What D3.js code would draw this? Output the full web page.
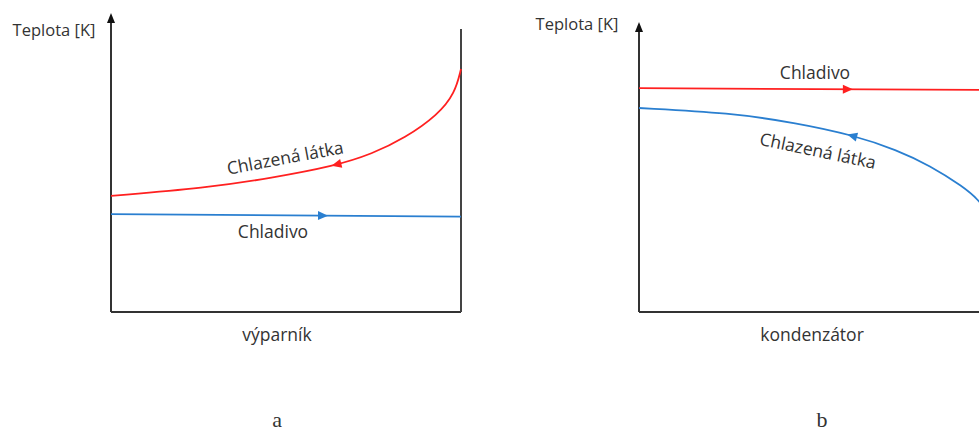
<!DOCTYPE html>
<html><head><meta charset="utf-8">
<script src="https://cdn.jsdelivr.net/npm/d3@7"></script>
<style>body{margin:0;background:#fff}svg{display:block}</style>
</head><body>
<svg id="c" width="979" height="432"></svg>
<script>
// Panel a (výparník)
const aHotX = [0, 27, 46, 64, 74.6, 84, 93.4, 98.3, 100];
const aHotY = [38.7, 41.3, 44.7, 48.7, 52.7, 58, 65.7, 73, 81];
const aColdX = [0, 100];
const aColdY = [32.6, 31.8];
// Panel b (kondenzátor)
const bHotX = [0, 100];
const bHotY = [74.6, 74];
const bColdX = [0, 26, 45.1, 61.1, 73.7, 83.1, 92.6, 97.1, 100];
const bColdY = [68, 66.4, 63, 59, 54, 48.8, 41.8, 37.3, 32.5];
const yLabel = "Teplota [K]";
const panelNames = ["výparník", "kondenzátor"];
const panelLetters = ["a", "b"];
const seriesNames = ["Chlazená látka", "Chladivo"];

const RED = "#ff2020", BLUE = "#2a7fd0", AX = "#333";
const svg = d3.select("#c");
const font = "'Open Sans', 'Noto Sans', sans-serif";

function zip(xs, ys){ return xs.map((x,i)=>({x, y: ys[i]})); }

function arrowAt(g, path, xs, targetX, dir, color){
  const node = path.node(), L = node.getTotalLength();
  const px = xs(targetX);
  let lo = 0, hi = L;
  for (let i=0;i<40;i++){ const m=(lo+hi)/2; if (node.getPointAtLength(m).x < px) lo=m; else hi=m; }
  const p = node.getPointAtLength(lo), q = node.getPointAtLength(Math.min(L, lo+2));
  let ang = Math.atan2(q.y-p.y, q.x-p.x)*180/Math.PI;
  if (dir < 0) ang += 180;
  g.append("path").attr("d","M0,0L-10,-4.5L-10,4.5Z").attr("fill",color)
    .attr("transform",`translate(${p.x},${p.y}) rotate(${ang})`);
}

function panel(opt){
  const x = d3.scaleLinear().domain([0,100]).range([opt.x0, opt.x0+350]);
  const y = d3.scaleLinear().domain([0,100]).range([312, 12]);
  const g = svg.append("g");
  const line = d3.line().x(d=>x(d.x)).y(d=>y(d.y)).curve(d3.curveBasis);

  // axes
  g.append("line").attr("x1",x(0)).attr("x2",x(0)).attr("y1",312).attr("y2",opt.arrowTop+8)
    .attr("stroke",AX).attr("stroke-width",2);
  g.append("path").attr("d",`M${x(0)},${opt.arrowTop}L${x(0)-4},${opt.arrowTop+10}L${x(0)+4},${opt.arrowTop+10}Z`).attr("fill","#111");
  g.append("line").attr("x1",x(0)).attr("x2",x(100)).attr("y1",312).attr("y2",312)
    .attr("stroke",AX).attr("stroke-width",2);
  if (opt.rightLine) g.append("line").attr("x1",x(100)).attr("x2",x(100)).attr("y1",29).attr("y2",312)
    .attr("stroke","#444").attr("stroke-width",2);

  const p1 = g.append("path").datum(zip(opt.c1X, opt.c1Y)).attr("d",line).attr("fill","none")
    .attr("stroke",opt.c1Col).attr("stroke-width",1.8);
  const p2 = g.append("path").datum(zip(opt.c2X, opt.c2Y)).attr("d",line).attr("fill","none")
    .attr("stroke",opt.c2Col).attr("stroke-width",1.8);
  arrowAt(g, p1, x, opt.a1X, opt.a1Dir, opt.c1Col);
  arrowAt(g, p2, x, opt.a2X, opt.a2Dir, opt.c2Col);

  const txt = (s, cx, cy, rot, size, fam) => g.append("text").text(s)
    .attr("transform",`translate(${cx},${cy}) rotate(${rot||0})`)
    .attr("text-anchor","middle").attr("dominant-baseline","central")
    .attr("font-family",fam||font).attr("font-size",size||14).attr("fill",AX);
  txt(yLabel, opt.ylx, opt.yly, 0, 16.5);
  opt.labels.forEach(l => txt(l.s, l.x, l.y, l.r, 17.5));
  txt(opt.name, x(0)+opt.nameDx, 334, 0, 17.5);
  txt(opt.letter, opt.letterX, 419, 0, 22, "'Liberation Serif','Times New Roman',serif");
}

panel({x0:111, arrowTop:13, rightLine:true, ylx:54, yly:29,
  c1X:aHotX, c1Y:aHotY, c1Col:RED, a1X:63, a1Dir:-1,
  c2X:aColdX, c2Y:aColdY, c2Col:BLUE, a2X:62, a2Dir:1,
  labels:[{s:seriesNames[0], x:285, y:157, r:-10.5},{s:seriesNames[1], x:273, y:231, r:0}],
  name:panelNames[0], nameDx:166, letter:panelLetters[0], letterX:277});

panel({x0:639, arrowTop:22, rightLine:false, ylx:577, yly:23,
  c1X:bHotX, c1Y:bHotY, c1Col:RED, a1X:61.1, a1Dir:1,
  c2X:bColdX, c2Y:bColdY, c2Col:BLUE, a2X:59.5, a2Dir:-1,
  labels:[{s:seriesNames[1], x:815, y:72, r:0},{s:seriesNames[0], x:818, y:150, r:11.8}],
  name:panelNames[1], nameDx:173, letter:panelLetters[1], letterX:822});
</script>
</body></html>
